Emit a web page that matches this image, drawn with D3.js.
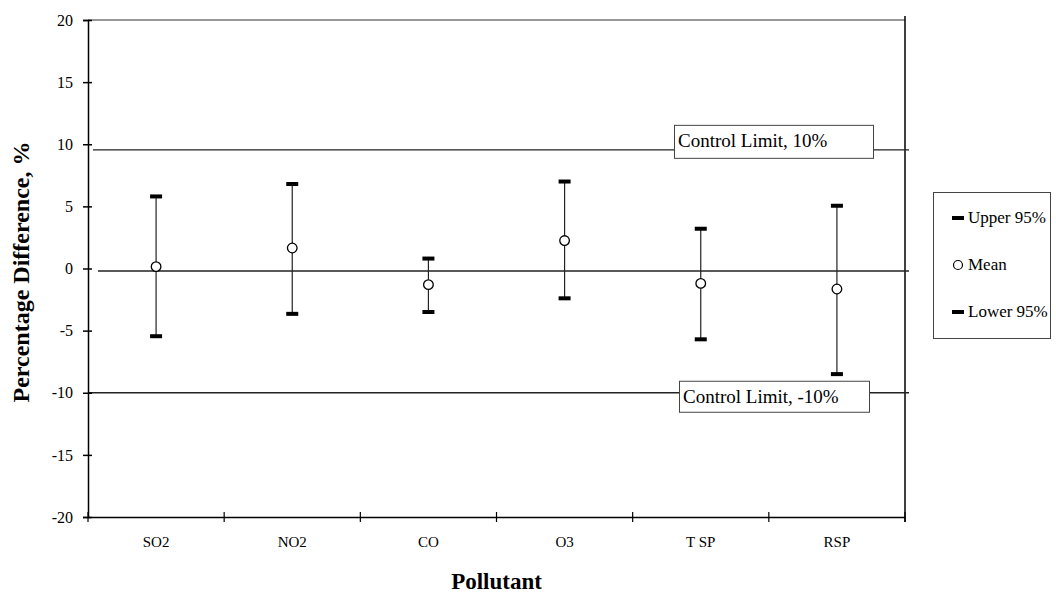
<!DOCTYPE html>
<html>
<head>
<meta charset="utf-8">
<script src="https://cdn.jsdelivr.net/npm/d3@7"></script>
<style>
  body { margin: 0; background: #fff; }
  svg { display: block; font-family: "Liberation Serif", "Times New Roman", serif; }
</style>
</head>
<body>
<svg id="chart"></svg>
<script>
// chart values
var pollutants = ["SO2", "NO2", "CO", "O3", "TSP", "RSP"];
var tickLabels = ["SO2", "NO2", "CO", "O3", "T SP", "RSP"];
var upper95 = [5.8, 6.8, 0.8, 7.0, 3.2, 5.05];
var means = [0.15, 1.65, -1.3, 2.25, -1.2, -1.65];
var lower95 = [-5.45, -3.65, -3.5, -2.4, -5.7, -8.5];
var yTicks = [-20, -15, -10, -5, 0, 5, 10, 15, 20];
var refValues = [9.55, -0.2, -10];
var refLabels = ["Control Limit, 10%", null, "Control Limit, -10%"];
var legendLabels = ["Upper 95%", "Mean", "Lower 95%"];

// layout (note: "top" is taken by window.top, so prefixed names)
var width = 1056;
var height = 594;
var plotLeft = 88, plotRight = 905, plotTop = 20, plotBottom = 517;
var refStart = [93, 98, 88];
var refEnd = 909;
var lineColor = "#222";

var svg = d3.select("#chart")
    .attr("width", width)
    .attr("height", height);

var x = d3.scaleBand()
    .domain(pollutants)
    .range([plotLeft, plotRight])
    .padding(0);

var y = d3.scaleLinear()
    .domain([-20, 20])
    .range([plotBottom, plotTop]);

// top border and right axis line
svg.append("line")
    .attr("x1", plotLeft).attr("x2", plotRight)
    .attr("y1", y(20)).attr("y2", y(20))
    .attr("stroke", "#333").attr("stroke-width", 1.2);
svg.append("line")
    .attr("x1", plotRight).attr("x2", plotRight)
    .attr("y1", plotTop - 4).attr("y2", plotBottom + 5)
    .attr("stroke", "#000").attr("stroke-width", 1.5);

// reference lines
var refs = refValues.map(function(v, i) { return {v: v, label: refLabels[i], x0: refStart[i]}; });
svg.selectAll(".ref")
    .data(refs)
    .enter()
    .append("line")
    .attr("class", "ref")
    .attr("x1", function(d) { return d.x0; })
    .attr("x2", refEnd)
    .attr("y1", function(d) { return y(d.v); })
    .attr("y2", function(d) { return y(d.v); })
    .attr("stroke", lineColor)
    .attr("stroke-width", 1.3);

// y axis (plain hyphen for negatives, like the original)
var yAxis = svg.append("g")
    .attr("transform", "translate(" + plotLeft + ",0)")
    .call(d3.axisLeft(y).tickValues(yTicks).tickSize(5).tickPadding(10)
        .tickFormat(function(d) { return String(d); }));
yAxis.select(".domain").attr("stroke", "#000").attr("stroke-width", 1.5);
yAxis.selectAll(".tick line").attr("x1", 4).attr("x2", -5).attr("stroke-width", 1.5);
yAxis.selectAll(".tick text")
    .attr("font-family", "Liberation Serif, Times New Roman, serif")
    .attr("font-size", 16)
    .attr("fill", "#000");

// x axis
var xAxis = svg.append("g")
    .attr("transform", "translate(0," + plotBottom + ")")
    .call(d3.axisBottom(x).tickSize(0).tickPadding(19)
        .tickFormat(function(d, i) { return tickLabels[i]; }));
xAxis.select(".domain").attr("stroke", "#000").attr("stroke-width", 1.5);
xAxis.selectAll(".tick text")
    .attr("font-family", "Liberation Serif, Times New Roman, serif")
    .attr("font-size", 15)
    .attr("fill", "#000");
var bounds = pollutants.map(function(p) { return x(p); }).concat([x.range()[1]]);
xAxis.selectAll(".bound")
    .data(bounds)
    .enter()
    .append("line")
    .attr("class", "bound")
    .attr("x1", function(d) { return d; })
    .attr("x2", function(d) { return d; })
    .attr("y1", -5).attr("y2", 5)
    .attr("stroke", "#000").attr("stroke-width", 1.2);

// control limit labels
var labelled = refs.filter(function(d) { return d.label; });
var boxes = svg.selectAll(".refbox")
    .data(labelled)
    .enter()
    .append("g")
    .attr("class", "refbox");
boxes.append("text")
    .attr("x", function(d, i) { return i === 0 ? 678 : 683; })
    .attr("y", function(d, i) { return y(d.v) - (i === 0 ? 3 : -10); })
    .attr("font-size", 19)
    .attr("fill", "#000")
    .text(function(d) { return d.label; })
    .each(function(d, i) {
        var bb = this.getBBox();
        d3.select(this.parentNode).insert("rect", "text")
            .attr("x", bb.x - 3.5)
            .attr("y", bb.y - 4.5)
            .attr("width", i === 0 ? 199 : 190)
            .attr("height", i === 0 ? 33 : 31)
            .attr("fill", "#fff")
            .attr("stroke", "#444")
            .attr("stroke-width", 1);
    });

// error bars
var rows = pollutants.map(function(p, i) {
    return {p: p, hi: upper95[i], mean: means[i], lo: lower95[i]};
});
var cx = function(d) { return x(d.p) + x.bandwidth() / 2; };

svg.selectAll(".whisker")
    .data(rows)
    .enter()
    .append("line")
    .attr("class", "whisker")
    .attr("x1", cx).attr("x2", cx)
    .attr("y1", function(d) { return y(d.hi); })
    .attr("y2", function(d) { return y(d.lo); })
    .attr("stroke", lineColor)
    .attr("stroke-width", 1.2);

["hi", "lo"].forEach(function(k) {
    svg.selectAll(".cap-" + k)
        .data(rows)
        .enter()
        .append("rect")
        .attr("class", "cap-" + k)
        .attr("x", function(d) { return cx(d) - 6; })
        .attr("y", function(d) { return y(d[k]) - 2; })
        .attr("width", 12)
        .attr("height", 4)
        .attr("fill", "#000");
});

svg.selectAll(".mean")
    .data(rows)
    .enter()
    .append("circle")
    .attr("class", "mean")
    .attr("cx", cx)
    .attr("cy", function(d) { return y(d.mean); })
    .attr("r", 4.8)
    .attr("fill", "#fff")
    .attr("stroke", "#000")
    .attr("stroke-width", 1.3);

// axis titles
svg.append("text")
    .attr("x", (plotLeft + plotRight) / 2)
    .attr("y", 589)
    .attr("text-anchor", "middle")
    .attr("font-size", 23)
    .attr("font-weight", "bold")
    .text("Pollutant");

svg.append("text")
    .attr("transform", "translate(29,272) rotate(-90)")
    .attr("text-anchor", "middle")
    .attr("font-size", 24)
    .attr("font-weight", "bold")
    .text("Percentage Difference, %");

// legend
var legend = svg.append("g");
legend.append("rect")
    .attr("x", 933.5).attr("y", 192.5)
    .attr("width", 117).attr("height", 146)
    .attr("fill", "#fff")
    .attr("stroke", "#444")
    .attr("stroke-width", 1);

var items = legend.selectAll(".item")
    .data(legendLabels)
    .enter()
    .append("g")
    .attr("class", "item")
    .attr("transform", function(d, i) { return "translate(958," + (218 + i * 47) + ")"; });

items.each(function(d, i) {
    var g = d3.select(this);
    if (i === 1) {
        g.append("circle").attr("r", 4.5)
            .attr("fill", "#fff").attr("stroke", "#000").attr("stroke-width", 1.2);
    } else {
        g.append("rect").attr("x", -6).attr("y", -2)
            .attr("width", 12).attr("height", 4).attr("fill", "#000");
    }
});

items.append("text")
    .attr("x", 10)
    .attr("y", 5)
    .attr("font-size", 17)
    .attr("fill", "#000")
    .text(function(d) { return d; });
</script>
</body>
</html>
